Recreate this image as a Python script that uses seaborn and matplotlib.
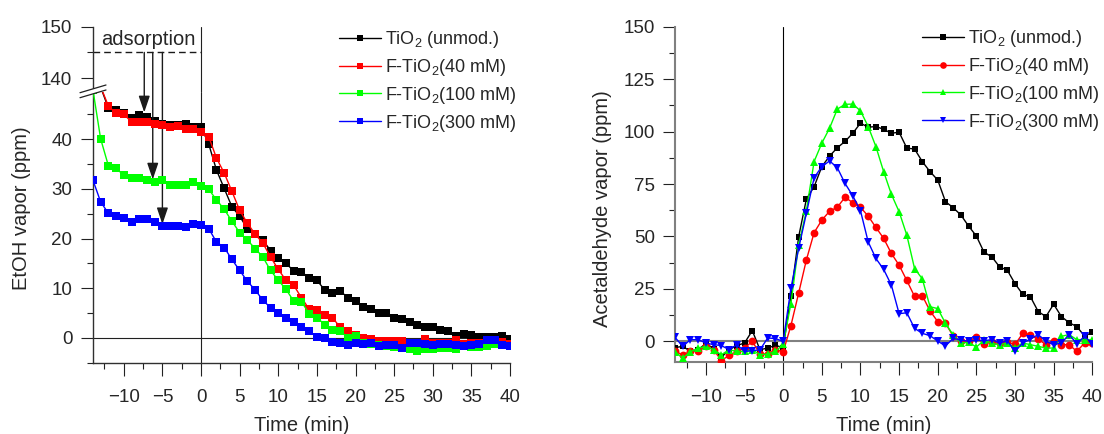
import numpy as np
import pandas as pd
import matplotlib
matplotlib.use("Agg")
import matplotlib.pyplot as plt
import seaborn as sns
from matplotlib.lines import Line2D
from matplotlib.patches import Polygon
from matplotlib.ticker import FixedLocator

sns.set_theme(style="white")
plt.rcParams["font.family"] = ["Liberation Sans", "DejaVu Sans"]
plt.rcParams["mathtext.fontset"] = "custom"
plt.rcParams["mathtext.rm"] = "Liberation Sans"
plt.rcParams["mathtext.it"] = "Liberation Sans:italic"
plt.rcParams["mathtext.default"] = "regular"

# ---------------- data ----------------
series_labels = ["TiO$_2$ (unmod.)", "F-TiO$_2$(40 mM)", "F-TiO$_2$(100 mM)", "F-TiO$_2$(300 mM)"]
series_colors = ["#000000", "#ff0000", "#00ff00", "#0000ff"]

# Left panel: EtOH vapor (ppm); time in minutes
etoh_start = [-13, -13, -14, -14]
etoh_unmod = [50.5, 46.3, 45.9, 45.3, 44.3, 44.9, 44.4, 43.6, 43.0, 42.8, 42.9, 43.0, 42.5, 42.5,
              39.0, 33.8, 30.1, 26.4, 24.5, 22.0, 20.9, 19.7, 17.6, 16.0, 15.0, 13.5, 13.3, 12.1,
              11.6, 9.7, 9.0, 9.5, 8.1, 7.4, 6.3, 5.9, 5.1, 5.0, 4.1, 3.9, 3.2, 2.7, 2.3, 2.2,
              1.7, 1.3, 0.3, 0.7, 0.5, 0.2, 0.2, 0.2, 0.3, -0.2]
etoh_40 = [50.6, 46.7, 45.2, 45.0, 43.5, 43.4, 43.5, 43.1, 42.9, 42.5, 42.6, 42.0, 42.0, 41.5,
           40.5, 36.2, 33.2, 29.5, 25.7, 23.1, 20.9, 19.1, 16.3, 13.8, 11.6, 10.6, 8.1, 5.8,
           5.7, 4.7, 4.1, 2.2, 1.3, 0.5, 0.0, -0.2, -0.6, -0.7, -0.7, -0.6, -1.0, -1.0, -0.3,
           -1.0, -1.0, -1.1, -0.4, -1.3, -1.0, -1.1, -0.9, -1.3, -0.9, -1.2]
etoh_100 = [50.0, 40.1, 34.7, 34.2, 32.7, 32.2, 32.2, 31.8, 31.3, 31.8, 30.8, 30.8, 30.8, 31.3, 30.5,
            29.9, 27.8, 25.9, 23.5, 21.2, 19.7, 18.0, 16.3, 13.6, 11.6, 9.8, 7.4, 7.3, 4.9, 4.1,
            2.7, 1.7, 1.5, 0.0, 0.3, -1.1, -1.3, -1.5, -1.6, -1.9, -2.0, -2.2, -2.6, -2.3, -2.2,
            -2.0, -2.0, -2.3, -1.7, -1.9, -1.9, -1.6, -1.3, -1.5, -1.7]
etoh_300 = [31.8, 27.4, 25.1, 24.6, 24.2, 23.4, 23.9, 23.9, 23.4, 22.6, 22.6, 22.6, 22.4, 22.9, 22.8,
            22.0, 19.3, 18.2, 15.8, 13.6, 11.4, 9.7, 7.6, 6.1, 5.0, 4.1, 3.2, 2.3, 1.4, 0.2,
            0.0, -0.9, -1.1, -1.4, -1.1, -1.2, -1.1, -1.7, -1.4, -1.4, -2.0, -1.0, -1.0, -1.2,
            -1.5, -1.2, -1.3, -1.5, -1.7, -1.5, -1.2, -0.5, -0.5, -1.4, -1.7]

# Right panel: acetaldehyde vapor (ppm), time -14 ... 40 min
acet_start = -14
acet_unmod = [-3.0, -2.4, -4.8, -4.0, -1.0, -3.5, -7.6, -4.0, -2.0, -0.8, 5.1, -4.0, -3.2, -1.9, -3.0,
              21.5, 49.8, 67.8, 73.7, 83.3, 88.3, 92.3, 95.3, 99.2, 104.0, 102.1, 102.4, 101.1, 99.2,
              99.7, 92.1, 91.7, 85.7, 80.9, 76.9, 66.6, 63.7, 60.2, 54.9, 50.2, 42.4, 40.3, 35.5,
              33.9, 27.5, 22.4, 21.2, 14.2, 11.8, 17.7, 11.8, 8.9, 7.0, 2.5, 4.3]
acet_40 = [-4.8, -6.4, -4.8, -4.5, -2.4, -4.0, -9.2, -6.7, -4.8, -3.2, 0.0, -6.0, -6.0, -4.0, -5.0,
           7.5, 23.0, 38.8, 51.8, 57.8, 62.0, 63.9, 68.7, 66.1, 63.9, 59.7, 54.3, 49.1, 41.9, 36.3,
           29.0, 21.4, 21.8, 14.5, 9.4, 8.6, 2.5, 0.0, 0.3, 1.9, -1.1, -0.5, -1.0, -0.5, -1.5,
           3.8, 3.0, 1.0, -1.6, 0.0, -1.6, -1.6, -4.8, -0.8, -0.8]
acet_100 = [-5.0, -8.0, -5.0, -3.2, -2.4, -4.0, -6.4, -4.0, -4.8, -4.8, -4.0, -6.4, -6.0, -4.8, -1.5,
            18.0, 45.9, 62.3, 85.7, 94.5, 101.6, 110.7, 113.0, 113.1, 109.9, 102.4, 92.8, 80.9,
            70.1, 61.8, 50.6, 34.7, 29.8, 16.5, 15.6, 8.6, 3.0, -0.8, -0.5, -2.7, 0.5, -1.0, -1.6,
            -0.8, -3.2, -0.8, -1.6, -2.4, -3.2, -3.2, 2.4, 3.2, 0.8, 0.8, 0.8]
acet_300 = [1.9, -2.4, 0.8, 0.8, -0.8, -1.6, -2.0, -4.0, -1.6, -4.8, -4.5, -4.0, 1.6, 1.3, 0.0,
            25.2, 44.3, 61.0, 78.0, 83.3, 86.0, 82.8, 75.3, 69.4, 62.3, 47.4, 39.5, 34.3, 26.8,
            13.2, 13.6, 6.2, 3.8, 2.7, 0.1, -2.2, 1.4, 0.6, 0.0, 0.6, 0.3, 0.8, -0.8, 0.3, -4.8,
            -0.8, 1.1, 3.2, 0.0, -1.6, -0.8, 3.2, -1.1, 2.4, -1.1]

# annotation (adsorption arrows): x position and tip value
arrow_x = [-7.35, -6.25, -5.0]
arrow_tip = [45.4, 31.9, 22.9]

x_major = [-10, -5, 0, 5, 10, 15, 20, 25, 30, 35, 40]
x_minor = [-12.5, -7.5, -2.5, 2.5, 7.5, 12.5, 17.5, 22.5, 27.5, 32.5, 37.5]

# ---------------- figure ----------------
W, H = 1104, 434
fig = plt.figure(figsize=(W / 100, H / 100), dpi=100)

def fx(px):
    return px / W

def fy(py):
    return 1 - py / H

TICK_FS = 13.5
LAB_FS = 14.5

ax_low = fig.add_axes([fx(92.5), fy(362.8), fx(510) - fx(92.5), fy(91.5) - fy(362.8)])
ax_up = fig.add_axes([fx(92.5), fy(91.5), fx(510) - fx(92.5), fy(26.7) - fy(91.5)])
ax_r = fig.add_axes([fx(675), fy(362.3), fx(1092.3) - fx(675), fy(26.7) - fy(362.3)])

def style_axis(ax, spine_color, spine_lw):
    for s in ["top", "right"]:
        ax.spines[s].set_visible(False)
    for s in ["left", "bottom"]:
        ax.spines[s].set_color(spine_color)
        ax.spines[s].set_linewidth(spine_lw)
    ax.tick_params(which="major", direction="out", length=9, width=0.8, color="#222222",
                   labelsize=TICK_FS, left=True, bottom=True)
    ax.tick_params(which="minor", direction="out", length=4.5, width=0.8, color="#222222",
                   left=True, bottom=True)
    ax.tick_params(axis="x", which="major", pad=10)
    ax.tick_params(axis="y", which="major", pad=5.5)
    ax.set_facecolor("none")
    ax.grid(False)

# ----- left panel (lower part) -----
for i, vals in enumerate([etoh_unmod, etoh_40, etoh_100, etoh_300]):
    t = list(range(etoh_start[i], etoh_start[i] + len(vals)))
    sns.lineplot(x=t, y=vals, ax=ax_low, color=series_colors[i], marker="s", markersize=6.2,
                 markeredgewidth=0, markeredgecolor=series_colors[i], linewidth=1.0,
                 estimator=None, sort=False, legend=False, zorder=3 + i)
ax_low.axhline(0, color="#202020", lw=0.8, zorder=1)
ax_low.axvline(0, color="#202020", lw=0.8, zorder=1)
ax_low.set_xlim(-14.05, 40)
ax_low.set_ylim(-5, 49.6)
ax_low.xaxis.set_major_locator(FixedLocator(x_major))
ax_low.xaxis.set_minor_locator(FixedLocator(x_minor))
ax_low.yaxis.set_major_locator(FixedLocator([0, 10, 20, 30, 40]))
ax_low.yaxis.set_minor_locator(FixedLocator([-5, 5, 15, 25, 35, 45]))
style_axis(ax_low, "#303030", 1.0)
ax_low.set_xlabel("")
ax_low.set_ylabel("")

# ----- left panel (upper part) -----
ax_up.set_xlim(-14.05, 40)
ax_up.set_ylim(137.4, 150)
ax_up.yaxis.set_major_locator(FixedLocator([140, 150]))
ax_up.yaxis.set_minor_locator(FixedLocator([145]))
style_axis(ax_up, "#303030", 1.0)
ax_up.spines["bottom"].set_visible(False)
ax_up.tick_params(axis="x", which="both", bottom=False, labelbottom=False)
ax_up.axvline(0, color="#202020", lw=0.8, zorder=1)
ax_up.hlines(145, -14.05, 0, colors="k", lw=1.0, linestyles=(0, (4.8, 2.9)))
ax_up.text(-6.8, 146.4, "adsorption", ha="center", va="baseline", fontsize=LAB_FS)

for xa, tip in zip(arrow_x, arrow_tip):
    ax_low.annotate("", xy=(xa, tip), xycoords="data", xytext=(xa, 145),
                    textcoords=ax_up.transData, annotation_clip=False,
                    arrowprops=dict(arrowstyle="-|>,head_length=1.0,head_width=0.34",
                                    color="k", lw=1.0, shrinkA=0, shrinkB=0,
                                    mutation_scale=10))

# break marks on the left spine
brk = Polygon([[fx(80), fy(92.7)], [fx(106), fy(85)], [fx(106), fy(90)], [fx(80), fy(97.7)]],
              closed=True, transform=fig.transFigure, facecolor="white", edgecolor="none",
              zorder=20)
fig.add_artist(brk)
fig.add_artist(Line2D([fx(80), fx(106)], [fy(92.7), fy(85)], transform=fig.transFigure,
                      color="#202020", lw=0.9, zorder=21))
fig.add_artist(Line2D([fx(80), fx(106)], [fy(97.7), fy(90)], transform=fig.transFigure,
                      color="#202020", lw=0.9, zorder=21))

# ----- right panel -----
acet_markers = ["s", "o", "^", "v"]
acet_ms = [4.8, 5.6, 6.4, 6.4]
t_acet = list(range(acet_start, acet_start + len(acet_unmod)))
for i, vals in enumerate([acet_unmod, acet_40, acet_100, acet_300]):
    sns.lineplot(x=t_acet, y=vals, ax=ax_r, color=series_colors[i], marker=acet_markers[i],
                 markersize=acet_ms[i], markeredgewidth=0, markeredgecolor=series_colors[i],
                 linewidth=1.0, estimator=None, sort=False, legend=False, zorder=3 + i)
ax_r.axhline(0, color="#808080", lw=1.5, zorder=1)
ax_r.axvline(0, color="#000000", lw=0.8, zorder=1)
ax_r.set_xlim(-14, 40)
ax_r.set_ylim(-10, 150)
ax_r.xaxis.set_major_locator(FixedLocator(x_major))
ax_r.xaxis.set_minor_locator(FixedLocator(x_minor))
ax_r.yaxis.set_major_locator(FixedLocator([0, 25, 50, 75, 100, 125, 150]))
ax_r.yaxis.set_minor_locator(FixedLocator([12.5, 37.5, 62.5, 87.5, 112.5, 137.5]))
style_axis(ax_r, "#808080", 1.5)
ax_r.set_xlabel("")
ax_r.set_ylabel("")

# ----- axis labels -----
fig.text(fx(22), fy(208.5), "EtOH vapor (ppm)", rotation=90, ha="center", va="center",
         fontsize=LAB_FS)
fig.text(fx(603), fy(208.5), "Acetaldehyde vapor (ppm)", rotation=90, ha="center",
         va="center", fontsize=LAB_FS)
fig.text(fx(302), fy(430.7), "Time (min)", ha="center", va="baseline", fontsize=LAB_FS)
fig.text(fx(884), fy(430.7), "Time (min)", ha="center", va="baseline", fontsize=LAB_FS)

# ----- legends -----
h_left = [Line2D([], [], color=c, marker="s", markersize=4.2, markeredgewidth=0, lw=1.0)
          for c in series_colors]
h_right = [Line2D([], [], color=c, marker=m, markersize=4.8, markeredgewidth=0, lw=1.0)
           for c, m in zip(series_colors, acet_markers)]
leg_kw = dict(loc="upper left", frameon=False, fontsize=13, handlelength=2.35,
              handletextpad=0.2, labelspacing=0.38, borderpad=0, borderaxespad=0)
fig.legend(h_left, series_labels, bbox_to_anchor=(fx(339), fy(29)), **leg_kw)
fig.legend(h_right, series_labels, bbox_to_anchor=(fx(922), fy(28)), **leg_kw)

fig.savefig("out.png", dpi=100)
